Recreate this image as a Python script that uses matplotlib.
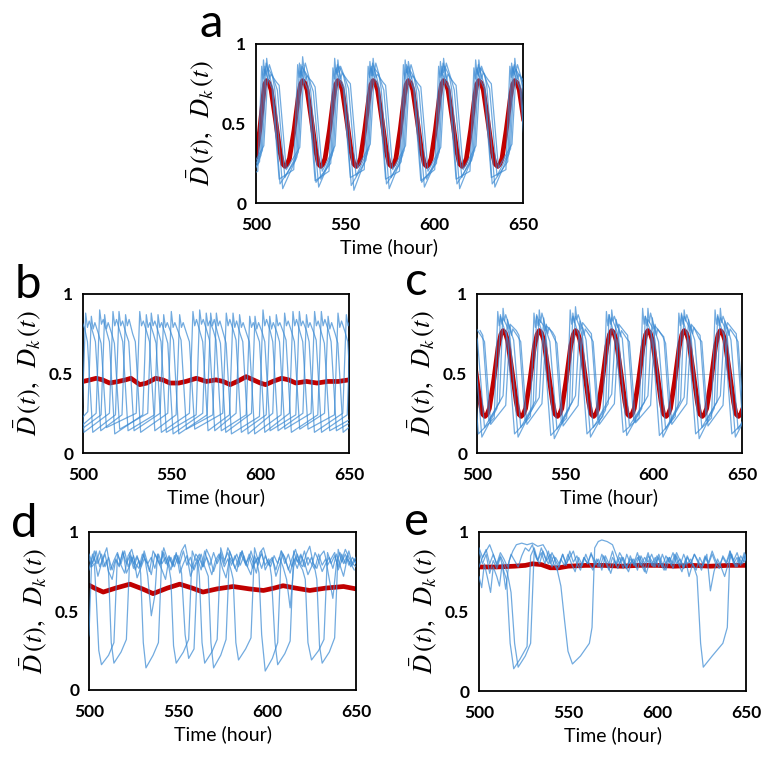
import matplotlib
matplotlib.use("Agg")
import matplotlib.pyplot as plt

# ---------------- data (time in hours, value D) ----------------
x_ticks = [500, 550, 600, 650]
y_ticks = [0, 0.5, 1]
y_ticklabels = ["0", "0.5", "1"]
panel_letters = ["a", "b", "c", "d", "e"]

# panel a: mean (red) and single-cell traces (blue)
a_mean = [(495, .24), (497.5, .23), (500, .29), (502, .45), (504, .66), (504.8, .745), (506, .77), (507.25, .755),
          (508.5, .71), (511, .52), (513.5, .32), (515, .245), (516.3, .23), (517.6, .245), (518.8, .28), (521.4, .46),
          (523.8, .67), (525, .745), (526.2, .77), (527.45, .755), (528.7, .71), (531.2, .52), (533.7, .32), (535.1, .245),
          (536.4, .23), (537.6, .245), (538.8, .28), (541.3, .46), (543.7, .67), (544.8, .745), (546, .77), (547.25, .755),
          (548.5, .71), (551, .52), (553.5, .32), (555, .245), (556.3, .23), (557.5, .245), (558.7, .28), (561.1, .46),
          (563.5, .67), (564.6, .745), (565.8, .77), (567.05, .755), (568.3, .71), (570.8, .52), (573.3, .32), (574.8, .245),
          (576.2, .23), (577.4, .245), (578.6, .28), (581, .46), (583.3, .67), (584.4, .745), (585.6, .77), (586.85, .755),
          (588.1, .71), (590.6, .52), (593.1, .32), (594.6, .245), (596, .23), (597.2, .245), (598.4, .28), (600.8, .46),
          (603.1, .67), (604.2, .745), (605.4, .77), (606.65, .755), (607.9, .71), (610.4, .52), (612.9, .32), (614.4, .245),
          (615.8, .23), (617, .245), (618.2, .28), (620.6, .46), (622.9, .67), (624, .745), (625.2, .77), (626.45, .755),
          (627.7, .71), (630.2, .52), (632.7, .32), (634.3, .245), (635.8, .23), (637, .245), (638.2, .28), (640.6, .46),
          (643, .67), (644.2, .745), (645.4, .77), (646.65, .755), (647.9, .71), (650.4, .52)]
a_cell1 = [(493.5, .12), (502, .26), (504.2, .90), (505, .80), (505.7, .88), (508, .78), (509.5, .72), (513.5, .12),
           (522.2, .27), (524.4, .88), (525.2, .79), (525.9, .86), (528.2, .80), (529.7, .71), (533.7, .13),
           (542, .25), (544.2, .91), (545, .81), (545.7, .87), (548, .77), (549.5, .73), (553.5, .11),
           (561.8, .27), (564, .89), (564.8, .80), (565.5, .88), (567.8, .79), (569.3, .72), (573.3, .12),
           (581.6, .26), (583.8, .90), (584.6, .82), (585.3, .86), (587.6, .78), (589.1, .71), (593.1, .13),
           (601.4, .25), (603.6, .89), (604.4, .80), (605.1, .88), (607.4, .77), (608.9, .72), (612.9, .12),
           (621.2, .27), (623.4, .90), (624.2, .81), (624.9, .87), (627.2, .78), (628.7, .73), (632.7, .12),
           (641.4, .26), (643.6, .88), (644.4, .80), (645.1, .87), (647.4, .78), (648.9, .72), (652.9, .13)]
a_cell2 = [(495, .09), (502.8, .30), (505, .86), (505.8, .81), (506.6, .85), (509.2, .80), (510.5, .72), (515, .09),
           (523, .29), (525.2, .87), (526, .80), (526.8, .84), (529.4, .79), (530.7, .71), (535.2, .10),
           (542.8, .30), (545, .85), (545.8, .82), (546.6, .86), (549.2, .80), (550.5, .73), (555, .08),
           (562.6, .31), (564.8, .86), (565.6, .80), (566.4, .85), (569, .81), (570.3, .72), (574.8, .09),
           (582.4, .30), (584.6, .87), (585.4, .81), (586.2, .84), (588.8, .79), (590.1, .71), (594.6, .10),
           (602.2, .29), (604.4, .86), (605.2, .82), (606, .86), (608.6, .80), (609.9, .72), (614.4, .09),
           (622, .30), (624.2, .85), (625, .80), (625.8, .85), (628.4, .81), (629.7, .73), (634.2, .10),
           (642.2, .31), (644.4, .86), (645.2, .81), (646, .84), (648.6, .79), (649.9, .72), (654.4, .09)]
a_cell3 = [(496.2, .16), (503.6, .33), (506, .91), (506.8, .83), (507.5, .87), (510.5, .76), (512, .71), (516.2, .16),
           (523.8, .32), (526.2, .92), (527, .84), (527.7, .88), (530.7, .75), (532.2, .70), (536.4, .15),
           (543.6, .33), (546, .90), (546.8, .82), (547.5, .86), (550.5, .77), (552, .72), (556.2, .17),
           (563.4, .34), (565.8, .91), (566.6, .83), (567.3, .88), (570.3, .76), (571.8, .71), (576, .16),
           (583.2, .33), (585.6, .89), (586.4, .84), (587.1, .87), (590.1, .75), (591.6, .70), (595.8, .15),
           (603, .32), (605.4, .91), (606.2, .83), (606.9, .88), (609.9, .77), (611.4, .71), (615.6, .16),
           (622.8, .33), (625.2, .90), (626, .82), (626.7, .86), (629.7, .76), (631.2, .72), (635.4, .17),
           (643, .34), (645.4, .91), (646.2, .83), (646.9, .87), (649.9, .75), (651.4, .70)]
a_cell4 = [(493, .74), (497, .21), (504.4, .36), (506.8, .84), (507.6, .78), (508.4, .81), (511.5, .76), (513, .74), (517, .21),
           (524.6, .35), (527, .85), (527.8, .77), (528.6, .80), (531.7, .76), (533.2, .73), (537.2, .20),
           (544.4, .36), (546.8, .83), (547.6, .78), (548.4, .82), (551.5, .77), (553, .75), (557, .22),
           (564.2, .37), (566.6, .84), (567.4, .79), (568.2, .81), (571.3, .76), (572.8, .74), (576.8, .21),
           (584, .36), (586.4, .85), (587.2, .78), (588, .80), (591.1, .75), (592.6, .73), (596.6, .20),
           (603.8, .35), (606.2, .84), (607, .77), (607.8, .81), (610.9, .76), (612.4, .74), (616.4, .21),
           (623.6, .36), (626, .83), (626.8, .78), (627.6, .82), (630.7, .77), (632.2, .75), (636.2, .22),
           (643.8, .37), (646.2, .84), (647, .78), (647.8, .81), (650.9, .76)]
a_cell5 = [(493, .15), (501, .20), (503.2, .86), (504, .78), (504.7, .84), (507.5, .76), (509, .72), (513, .15),
           (521.2, .21), (523.4, .87), (524.2, .79), (524.9, .83), (527.7, .75), (529.2, .71), (533.2, .14),
           (541, .20), (543.2, .85), (544, .78), (544.7, .84), (547.5, .76), (549, .72), (553, .16),
           (560.8, .21), (563, .86), (563.8, .79), (564.5, .85), (567.3, .77), (568.8, .72), (572.8, .15),
           (580.6, .20), (582.8, .87), (583.6, .78), (584.3, .84), (587.1, .76), (588.6, .71), (592.6, .14),
           (600.4, .21), (602.6, .86), (603.4, .79), (604.1, .83), (606.9, .75), (608.4, .72), (612.4, .15),
           (620.2, .20), (622.4, .85), (623.2, .78), (623.9, .84), (626.7, .76), (628.2, .72), (632.2, .16),
           (640.4, .21), (642.6, .86), (643.4, .79), (644.1, .85), (646.9, .76), (648.4, .71), (652.4, .15)]

# panel b: desynchronised cells
b_mean = [(500, .45), (504, .46), (507.5, .47), (511, .46), (515, .44), (520, .45), (524, .46), (527, .47),
          (532, .43), (536, .44), (541, .47), (545, .46), (549, .44), (554, .44), (558, .45), (564, .47),
          (569.5, .45), (575, .46), (579, .45), (583, .43), (587, .45), (592, .48), (596, .46), (600, .44),
          (603, .43), (607, .45), (612, .47), (616, .46), (620, .44), (626, .45), (632, .44), (638, .45),
          (644, .45), (650, .46)]
b_cell1 = [(496, .17), (499.5, .24), (501.5, .88), (502.5, .79), (503.5, .83), (505.5, .76), (507, .70), (510, .14),
           (522, .24), (524, .87), (525, .80), (526, .84), (528, .75), (529.5, .70), (532.5, .13),
           (547.8, .25), (549.8, .89), (550.8, .79), (551.8, .82), (553.8, .76), (555.3, .71), (558.3, .15),
           (573.2, .24), (575.2, .88), (576.2, .80), (577.2, .83), (579.2, .75), (580.7, .69), (583.7, .12),
           (599.5, .23), (601.5, .90), (602.5, .80), (603.5, .84), (605.5, .77), (607, .70), (610, .14),
           (624, .25), (626, .87), (627, .79), (628, .82), (630, .76), (631.5, .71), (634.5, .13),
           (649, .24), (651, .88)]
b_cell2 = [(497, .19), (502.7, .26), (504.7, .86), (505.7, .78), (506.7, .82), (508.7, .75), (510.2, .69), (513.2, .16),
           (530, .25), (532, .89), (533, .80), (534, .83), (536, .76), (537.5, .70), (540.5, .14),
           (552.5, .24), (554.5, .87), (555.5, .79), (556.5, .82), (558.5, .75), (560, .70), (563, .15),
           (578.8, .25), (580.8, .88), (581.8, .80), (582.8, .84), (584.8, .77), (586.3, .71), (589.3, .13),
           (603.3, .24), (605.3, .86), (606.3, .78), (607.3, .82), (609.3, .76), (610.8, .70), (613.8, .15),
           (628.6, .25), (630.6, .89), (631.6, .80), (632.6, .83), (634.6, .75), (636.1, .69), (639.1, .14),
           (652, .22)]
b_cell3 = [(496, .14), (507.4, .25), (509.4, .90), (510.4, .81), (511.4, .84), (513.4, .76), (514.9, .70), (517.9, .12),
           (533.7, .24), (535.7, .87), (536.7, .79), (537.7, .82), (539.7, .75), (541.2, .69), (544.2, .13),
           (560, .25), (562, .89), (563, .80), (564, .84), (566, .76), (567.5, .70), (570.5, .14),
           (582.6, .24), (584.6, .88), (585.6, .79), (586.6, .83), (588.6, .75), (590.1, .70), (593.1, .12),
           (607, .25), (609, .87), (610, .80), (611, .82), (613, .76), (614.5, .71), (617.5, .13),
           (632.4, .24), (634.4, .89), (635.4, .80), (636.4, .84), (638.4, .77), (639.9, .70), (642.9, .14),
           (652, .20)]
b_cell4 = [(495.5, .12), (510.2, .24), (512.2, .87), (513.2, .78), (514.2, .82), (516.2, .75), (517.7, .69), (520.7, .15),
           (536.5, .25), (538.5, .88), (539.5, .80), (540.5, .83), (542.5, .76), (544, .70), (547, .13),
           (563.8, .24), (565.8, .90), (566.8, .81), (567.8, .84), (569.8, .77), (571.3, .71), (574.3, .14),
           (586.3, .25), (588.3, .87), (589.3, .79), (590.3, .82), (592.3, .75), (593.8, .70), (596.8, .12),
           (611.7, .24), (613.7, .88), (614.7, .80), (615.7, .83), (617.7, .76), (619.2, .70), (622.2, .15),
           (636.2, .25), (638.2, .86), (639.2, .78), (640.2, .82), (642.2, .75), (643.7, .69), (646.7, .13),
           (652, .18)]
b_cell5 = [(490, .25), (492, .88), (493, .80), (494, .83), (496, .76), (497.5, .70), (500.5, .13),
           (514.9, .25), (516.9, .89), (517.9, .80), (518.9, .84), (520.9, .76), (522.4, .70), (525.4, .14),
           (540.3, .24), (542.3, .87), (543.3, .79), (544.3, .82), (546.3, .75), (547.8, .69), (550.8, .12),
           (567.5, .25), (569.5, .88), (570.5, .80), (571.5, .83), (573.5, .77), (575, .71), (578, .14),
           (592, .24), (594, .86), (595, .79), (596, .82), (598, .75), (599.5, .70), (602.5, .13),
           (616.4, .25), (618.4, .89), (619.4, .80), (620.4, .84), (622.4, .76), (623.9, .70), (626.9, .15),
           (641.8, .24), (643.8, .88), (644.8, .79), (645.8, .83), (647.8, .76), (649.3, .70), (652.3, .14)]
b_cell6 = [(495, .25), (497, .87), (498, .80), (499, .84), (501, .78), (502.5, .70), (505.5, .13),
           (518.3, .24), (520.3, .89), (521.3, .80), (522.3, .83), (524.3, .75), (525.8, .70), (528.8, .14),
           (543.5, .25), (545.5, .87), (546.5, .79), (547.5, .82), (549.5, .76), (551, .71), (554, .12),
           (570, .24), (572, .88), (573, .80), (574, .84), (576, .75), (577.5, .69), (580.5, .13),
           (595, .25), (597, .86), (598, .78), (599, .82), (601, .76), (602.5, .70), (605.5, .14),
           (620, .24), (622, .89), (623, .80), (624, .83), (626, .77), (627.5, .70), (630.5, .13),
           (646.5, .25), (648.5, .87), (649.5, .80), (650.5, .83)]

# panel c
c_mean = [(494.25, .77), (495.5, .755), (496.75, .71), (499.25, .52), (501.75, .32), (503.1, .245), (504.5, .23),
          (505.75, .245), (507, .28), (509.5, .46), (512, .67), (513.5, .745), (514.75, .77), (516, .755), (517.25, .71),
          (519.75, .52), (522.25, .32), (523.6, .245), (525, .23), (526.25, .245), (527.5, .28), (530, .46), (532.5, .67),
          (534, .745), (535.25, .77), (536.5, .755), (537.75, .71), (540.25, .52), (542.75, .32), (544.1, .245),
          (545.5, .23), (546.75, .245), (548, .28), (550.5, .46), (553, .67), (554.5, .745), (555.75, .77), (557, .755),
          (558.25, .71), (560.75, .52), (563.25, .32), (564.6, .245), (566, .23), (567.25, .245), (568.5, .28),
          (571, .46), (573.5, .67), (575, .745), (576.25, .77), (577.5, .755), (578.75, .71), (581.25, .52),
          (583.75, .32), (585.1, .245), (586.5, .23), (587.75, .245), (589, .28), (591.5, .46), (594, .67),
          (595.5, .745), (596.75, .77), (598, .755), (599.25, .71), (601.75, .52), (604.25, .32), (605.6, .245),
          (607, .23), (608.25, .245), (609.5, .28), (612, .46), (614.5, .67), (616, .745), (617.25, .77), (618.5, .755),
          (619.75, .71), (622.25, .52), (624.75, .32), (626.1, .245), (627.5, .23), (628.75, .245), (630, .28),
          (632.5, .46), (635, .67), (636.5, .745), (637.75, .77), (639, .755), (640.25, .71), (642.75, .52),
          (645.25, .32), (646.6, .245), (648, .23), (649.25, .245), (650.5, .28)]
c_cell1 = [(496.75, .72), (500.75, .12),
           (509.75, .22), (511.75, .89), (512.55, .80), (513.25, .86), (515.75, .77), (517.25, .72), (521.25, .12),
           (530.25, .23), (532.25, .88), (533.05, .79), (533.75, .87), (536.25, .78), (537.75, .71), (541.75, .11),
           (550.75, .22), (552.75, .90), (553.55, .81), (554.25, .86), (556.75, .77), (558.25, .72), (562.25, .12),
           (571.25, .23), (573.25, .89), (574.05, .80), (574.75, .87), (577.25, .76), (578.75, .71), (582.75, .13),
           (591.75, .22), (593.75, .91), (594.55, .81), (595.25, .86), (597.75, .78), (599.25, .72), (603.25, .11),
           (612.25, .23), (614.25, .88), (615.05, .80), (615.75, .87), (618.25, .77), (619.75, .71), (623.75, .12),
           (632.75, .22), (634.75, .90), (635.55, .81), (636.25, .86), (638.75, .77), (640.25, .72), (644.25, .12),
           (653.25, .22)]
c_cell2 = [(496.75, .79), (498.25, .72), (502.75, .10),
           (511.25, .28), (513.25, .87), (514.05, .81), (514.75, .85), (517.25, .79), (518.75, .72), (523.25, .10),
           (531.75, .29), (533.75, .86), (534.55, .80), (535.25, .84), (537.75, .80), (539.25, .71), (543.75, .09),
           (552.25, .28), (554.25, .88), (555.05, .82), (555.75, .86), (558.25, .79), (559.75, .73), (564.25, .10),
           (572.75, .27), (574.75, .87), (575.55, .81), (576.25, .85), (578.75, .78), (580.25, .72), (584.75, .11),
           (593.25, .28), (595.25, .86), (596.05, .80), (596.75, .84), (599.25, .79), (600.75, .71), (605.25, .10),
           (613.75, .29), (615.75, .88), (616.55, .81), (617.25, .86), (619.75, .80), (621.25, .72), (625.75, .09),
           (634.25, .28), (636.25, .87), (637.05, .80), (637.75, .85), (640.25, .79), (641.75, .72), (646.25, .10),
           (654.75, .28)]
c_cell3 = [(498.75, .76), (500.25, .71), (504.25, .16),
           (512.75, .32), (514.75, .91), (515.55, .83), (516.25, .87), (519.25, .76), (520.75, .71), (524.75, .16),
           (533.25, .33), (535.25, .90), (536.05, .82), (536.75, .88), (539.75, .75), (541.25, .70), (545.25, .15),
           (553.75, .32), (555.75, .92), (556.55, .84), (557.25, .87), (560.25, .77), (561.75, .71), (565.75, .16),
           (574.25, .31), (576.25, .90), (577.05, .83), (577.75, .86), (580.75, .76), (582.25, .72), (586.25, .17),
           (594.75, .32), (596.75, .91), (597.55, .82), (598.25, .88), (601.25, .75), (602.75, .70), (606.75, .15),
           (615.25, .33), (617.25, .90), (618.05, .83), (618.75, .87), (621.75, .76), (623.25, .71), (627.25, .16),
           (635.75, .32), (637.75, .91), (638.55, .82), (639.25, .86), (642.25, .77), (643.75, .71), (647.75, .15),
           (656.25, .32)]
c_cell4 = [(501.75, .77), (503.25, .74), (506.75, .20),
           (514.75, .36), (517.25, .84), (518.05, .78), (518.75, .81), (522.25, .77), (523.75, .74), (527.25, .20),
           (535.25, .35), (537.75, .85), (538.55, .77), (539.25, .80), (542.75, .76), (544.25, .73), (547.75, .19),
           (555.75, .36), (558.25, .83), (559.05, .78), (559.75, .82), (563.25, .77), (564.75, .75), (568.25, .21),
           (576.25, .37), (578.75, .84), (579.55, .79), (580.25, .81), (583.75, .76), (585.25, .74), (588.75, .20),
           (596.75, .36), (599.25, .85), (600.05, .78), (600.75, .80), (604.25, .75), (605.75, .73), (609.25, .19),
           (617.25, .35), (619.75, .84), (620.55, .77), (621.25, .81), (624.75, .76), (626.25, .74), (629.75, .20),
           (637.75, .36), (640.25, .83), (641.05, .78), (641.75, .82), (645.25, .77), (646.75, .75), (650.25, .21)]
c_cell5 = [(495.75, .30), (498.25, .80), (499.05, .74), (499.75, .78), (502.75, .73), (504.25, .70), (507.75, .18),
           (516.25, .30), (518.75, .80), (519.55, .74), (520.25, .78), (523.25, .73), (524.75, .70), (528.25, .18),
           (536.75, .31), (539.25, .81), (540.05, .75), (540.75, .79), (543.75, .72), (545.25, .69), (548.75, .17),
           (557.25, .30), (559.75, .79), (560.55, .74), (561.25, .78), (564.25, .73), (565.75, .70), (569.25, .18),
           (577.75, .31), (580.25, .80), (581.05, .73), (581.75, .77), (584.75, .72), (586.25, .70), (589.75, .19),
           (598.25, .30), (600.75, .81), (601.55, .74), (602.25, .78), (605.25, .73), (606.75, .69), (610.25, .18),
           (618.75, .31), (621.25, .80), (622.05, .75), (622.75, .79), (625.75, .72), (627.25, .70), (630.75, .17),
           (639.25, .30), (641.75, .79), (642.55, .74), (643.25, .78), (646.25, .73), (647.75, .70), (651.25, .18)]

# panel d
d_mean = [(500, .663), (504, .64), (508, .62), (515, .645), (523, .67), (530, .64), (536, .61), (544, .645),
          (551, .67), (558, .645), (564, .62), (572, .64), (581, .655), (590, .64), (598, .63), (604, .645),
          (609, .66), (616, .645), (624, .63), (633, .645), (643, .655), (650, .64)]
d_cell1_t = list(range(500, 652, 2))
d_cell1_v = [.86, .80, .88, .78, .84, .90, .76, .82, .87, .79, .74, .85, .89, .80, .77, .86, .82, .75, .88, .84,
             .79, .90, .83, .76, .85, .80, .88, .92, .81, .77, .86, .83, .78, .89, .84, .75, .82, .87, .80, .90,
             .85, .77, .83, .88, .79, .86, .81, .74, .87, .90, .82, .78, .85, .80, .88, .84, .76, .83, .89, .81,
             .78, .86, .91, .80, .77, .85, .88, .79, .83, .87, .76, .82, .89, .84, .80, .78]
d_cell2_t = list(range(501, 651, 2))
d_cell2_v = [.78, .84, .72, .80, .86, .75, .70, .82, .78, .88, .74, .79, .85, .71, .77, .83, .80, .73, .86, .81,
             .76, .70, .84, .79, .87, .74, .80, .85, .72, .78, .83, .76, .88, .80, .73, .82, .86, .77, .71, .84,
             .80, .75, .87, .82, .78, .73, .85, .79, .88, .76, .81, .84, .72, .79, .86, .80, .74, .83, .77, .85,
             .81, .73, .78, .87, .82, .75, .80, .84, .77, .86, .79, .72, .83, .80, .76]
d_cell3 = [(500, .84), (501.5, .78), (503, .80), (504, .60), (505.5, .25), (507, .16), (511, .22), (514, .30),
           (516, .86), (518, .80), (520, .88), (522, .78), (524, .84), (526, .76), (528, .82), (529, .74), (530.5, .30),
           (532, .14), (536, .22), (539, .30), (541, .88), (543, .80), (545, .85), (547, .78), (549, .86), (551, .80),
           (553, .88), (555, .79), (557, .84), (559, .76), (561, .82), (562, .72), (563.5, .30), (565, .17), (569, .24),
           (572, .32), (574, .90), (576, .82), (578, .87), (580, .79), (582, .85), (584, .78), (586, .88), (588, .80),
           (590, .84), (592, .77), (594, .83), (595.5, .74), (597, .35), (599, .12), (603, .20), (606, .30), (608, .88),
           (610, .80), (612, .86), (614, .78), (616, .84), (618, .80), (620, .76), (621.5, .70), (623, .30), (625, .19),
           (629, .25), (632, .32), (634, .87), (636, .80), (638, .85), (640, .78), (642, .86), (644, .80), (646, .88),
           (648, .79), (650, .84)]
d_cell4 = [(500, .76), (502, .86), (504, .80), (506, .88), (508, .78), (510, .82), (511, .74), (512.5, .30), (514, .17),
           (518, .24), (521, .32), (523, .87), (525, .80), (527, .85), (529, .78), (531, .88), (533, .80), (535, .84),
           (537, .77), (539, .86), (541, .80), (543, .84), (545, .77), (546, .70), (547.5, .28), (549, .17), (553, .24),
           (556, .32), (558, .88), (560, .82), (562, .86), (564, .78), (566, .84), (568, .79), (570, .87), (572, .80),
           (574, .85), (576, .78), (578, .83), (580, .75), (581, .70), (582.5, .30), (584, .19), (588, .26), (591, .33),
           (593, .90), (595, .82), (597, .86), (599, .79), (601, .83), (602.5, .72), (604.5, .30), (606, .16), (610, .23),
           (613, .31), (615, .88), (617, .81), (619, .86), (621, .78), (623, .84), (625, .80), (627, .76), (628, .70),
           (629.5, .28), (631, .17), (635, .24), (638, .33), (640, .89), (642, .81), (644, .86), (646, .79), (648, .84),
           (650, .80)]
d_cell5 = [(499, .30), (500, .35), (501.5, .82), (503, .88), (505, .80), (507, .86), (509, .78), (511, .84), (513, .76),
           (515, .83), (517, .79), (519, .87), (521, .80), (523, .85), (525, .77), (527, .84), (529, .79), (531, .86),
           (533, .72), (535, .47), (537, .60), (538.5, .86), (540, .80), (542, .87), (544, .79), (546, .84), (548, .78),
           (550, .85), (552, .74), (554, .35), (556, .20), (559, .26), (561, .80), (563, .86), (565, .78), (567, .72),
           (568.5, .30), (570, .14), (574, .22), (577, .32), (579, .88), (581, .81), (583, .86), (585, .79), (587, .85),
           (589, .78), (591, .88), (593, .80), (595, .84), (597, .77), (599, .85), (601, .79), (603, .83), (605, .76),
           (607, .84), (609, .78), (611, .70), (613, .52), (615, .78), (617, .86), (619, .80), (621, .88), (623, .79),
           (625, .84), (627, .77), (629, .86), (631, .79), (633, .83), (635, .70), (637, .58), (639, .80), (641, .87),
           (643, .80), (645, .85), (647, .78), (649, .83), (650, .80)]

# panel e
e_mean = [(500, .78), (510, .78), (520, .785), (526, .79), (530, .80), (535, .795), (540, .775), (545, .775),
          (550, .785), (560, .79), (570, .79), (580, .785), (590, .79), (600, .79), (610, .785), (620, .79),
          (630, .785), (640, .79), (650, .79)]
e_cell1 = [(500, .88), (502, .80), (504, .86), (506, .74), (508, .82), (510, .77), (512, .84), (514, .75), (515.5, .70),
           (517.5, .30), (519.5, .14), (523, .20), (527, .28), (529, .85), (531, .90), (533, .82), (535, .87), (537, .80),
           (539, .88), (541, .78), (543, .84), (545, .80), (547, .86), (549, .79), (551, .88), (553, .81), (555, .85),
           (557, .78), (559, .84), (561, .80), (563, .87), (565, .79), (567, .83), (569, .76), (571, .85), (573, .80),
           (575, .88), (577, .79), (579, .84), (581, .77), (583, .86), (585, .80), (587, .83), (589, .76), (591, .85),
           (593, .80), (595, .87), (597, .79), (599, .84), (601, .78), (603, .86), (605, .80), (607, .84), (609, .77),
           (611, .85), (613, .79), (615, .86), (617, .80), (619, .83), (621, .77), (622.5, .72), (624.5, .30), (626, .15),
           (631, .22), (637, .30), (639.5, .40), (641, .88), (643, .82), (645, .87), (647, .80), (649, .85), (650, .82)]
e_cell2 = [(500, .90), (502, .84), (504, .89), (506, .80), (508, .86), (510, .79), (512, .85), (514, .80), (516, .74),
           (518, .62), (520, .30), (522, .15), (526, .22), (529, .30), (531, .88), (533, .82), (535, .90), (537, .84),
           (539, .80), (541, .87), (543, .82), (545, .78), (547, .86), (549, .80), (551, .84), (553, .88), (555, .80),
           (557, .76), (559, .84), (561, .80), (563, .86), (565, .82), (567, .78), (569, .86), (571, .81), (573, .76),
           (575, .84), (577, .80), (579, .87), (581, .83), (583, .77), (585, .85), (587, .79), (589, .84), (591, .80),
           (593, .75), (595, .85), (597, .82), (599, .78), (601, .86), (603, .80), (605, .76), (607, .84), (609, .80),
           (611, .87), (613, .82), (615, .77), (617, .84), (619, .80), (621, .86), (623, .81), (625, .76), (627, .84),
           (629, .80), (631, .86), (633, .80), (635, .77), (637, .85), (639, .81), (641, .88), (643, .80), (645, .84),
           (647, .79), (649, .87), (650, .83)]
e_cell3 = [(500, .78), (502, .84), (504, .88), (506, .92), (508, .86), (510, .80), (512, .87), (514, .83), (516, .78),
           (518, .86), (520, .82), (522, .78), (524, .85), (526, .90), (528, .88), (530, .92), (532, .84), (534, .80),
           (536, .88), (538, .82), (540, .86), (542, .80), (544, .76), (546, .66), (548, .45), (550, .25), (552.5, .17),
           (557, .22), (562, .30), (563.5, .40), (565, .90), (567, .94), (569, .95), (572, .94), (575, .92), (577, .86),
           (579, .80), (581, .84), (583, .78), (585, .83), (587, .80), (589, .87), (591, .79), (593, .84), (595, .81),
           (597, .86), (599, .80), (601, .84), (603, .78), (605, .85), (607, .81), (609, .87), (611, .80), (613, .83),
           (615, .78), (617, .85), (619, .80), (621, .86), (623, .82), (625, .78), (627, .85), (629, .81), (631, .88),
           (633, .82), (635, .79), (637, .84), (639, .80), (641, .86), (643, .82), (645, .78), (647, .85), (649, .81),
           (650, .84)]
e_cell4 = [(500, .72), (501.5, .65), (503, .80), (505, .70), (506.5, .62), (508, .78), (510, .72), (511.5, .66), (513, .80),
           (515, .64), (517, .82), (519, .88), (521, .92), (524, .93), (527, .92), (530, .93), (533, .91), (536, .92),
           (538, .88), (540, .80), (542, .85), (544, .76), (546, .83), (548, .79), (550, .86), (552, .80), (554, .75),
           (556, .84), (558, .79), (560, .86), (562, .80), (564, .76), (566, .83), (568, .78), (570, .85), (572, .80),
           (574, .74), (576, .82), (578, .77), (580, .84), (582, .79), (584, .75), (586, .83), (588, .78), (590, .85),
           (592, .80), (594, .74), (596, .82), (598, .78), (600, .85), (602, .80), (604, .76), (606, .84), (608, .79),
           (610, .86), (612, .80), (614, .75), (616, .83), (618, .72), (620, .80), (622, .76), (624, .84), (626, .79),
           (628, .86), (630, .63), (632, .75), (634, .83), (636, .78), (638, .72), (640, .80), (642, .86), (644, .78),
           (646, .84), (648, .80), (650, .86)]

# ---------------- drawing ----------------
plt.rcParams["mathtext.fontset"] = "stix"
TICK_FONT = "Lato"
BLUE = "#3b8ad3"
RED = "#c00000"

fig = plt.figure(figsize=(7.72, 7.63), dpi=100)
W, H = 772.0, 763.0


def px_axes(x0, x1, ytop, ybot):
    return [x0 / W, 1 - ybot / H, (x1 - x0) / W, (ybot - ytop) / H]


def pairs(seq):
    return [p[0] for p in seq], [p[1] for p in seq]


def style(ax):
    ax.set_xlim(500, 650)
    ax.set_ylim(0, 1)
    ax.set_xticks(x_ticks)
    ax.set_xticklabels([str(v) for v in x_ticks], fontfamily=TICK_FONT, fontweight="bold", fontsize=12.5)
    ax.set_yticks(y_ticks)
    ax.set_yticklabels(y_ticklabels, fontfamily=TICK_FONT, fontweight="bold", fontsize=12.5)
    ax.tick_params(length=0, pad=7)
    ax.tick_params(axis="x", pad=10)
    for s in ax.spines.values():
        s.set_linewidth(1.3)
        s.set_color("black")
    ax.set_xlabel("Time (hour)", fontfamily=TICK_FONT, fontsize=14, labelpad=4)
    ax.set_ylabel(r"$\bar{D}\,(t),\;\; D_k\,(t)$", fontsize=19, labelpad=4)


def draw(ax, mean, cells):
    mt, mv = pairs(mean)
    ax.plot(mt, mv, color=RED, lw=3.4, zorder=2, solid_capstyle="round", solid_joinstyle="round")
    for c in cells:
        if isinstance(c, tuple):
            t, v = c
        else:
            t, v = pairs(c)
        ax.plot(t, v, color=BLUE, lw=0.9, alpha=0.72, zorder=3)
    style(ax)


axes_px = {
    "a": (256, 523, 44, 203),
    "b": (83, 349, 294, 453),
    "c": (477, 742, 294, 453),
    "d": (89, 356, 532, 690),
    "e": (479, 746, 532, 691),
}
letter_pos = {"a": (211, 37), "b": (28, 298), "c": (416, 295), "d": (24, 537), "e": (416, 535)}

data = {
    "a": (a_mean, [a_cell1, a_cell2, a_cell3, a_cell4, a_cell5]),
    "b": (b_mean, [b_cell1, b_cell2, b_cell3, b_cell4, b_cell5, b_cell6]),
    "c": (c_mean, [c_cell1, c_cell2, c_cell3, c_cell4, c_cell5]),
    "d": (d_mean, [(d_cell1_t, d_cell1_v), (d_cell2_t, d_cell2_v), d_cell3, d_cell4, d_cell5]),
    "e": (e_mean, [e_cell1, e_cell2, e_cell3, e_cell4]),
}

for key in panel_letters:
    ax = fig.add_axes(px_axes(*axes_px[key]))
    if key == "c":
        ax.axhline(0.5, color="#b8c0c8", lw=0.6, zorder=1)
    mean, cells = data[key]
    draw(ax, mean, cells)
    lx, ly = letter_pos[key]
    fig.text(lx / W, 1 - ly / H, key, fontsize=34, fontfamily=TICK_FONT, ha="center", va="baseline")

fig.savefig("out.png", dpi=100)
